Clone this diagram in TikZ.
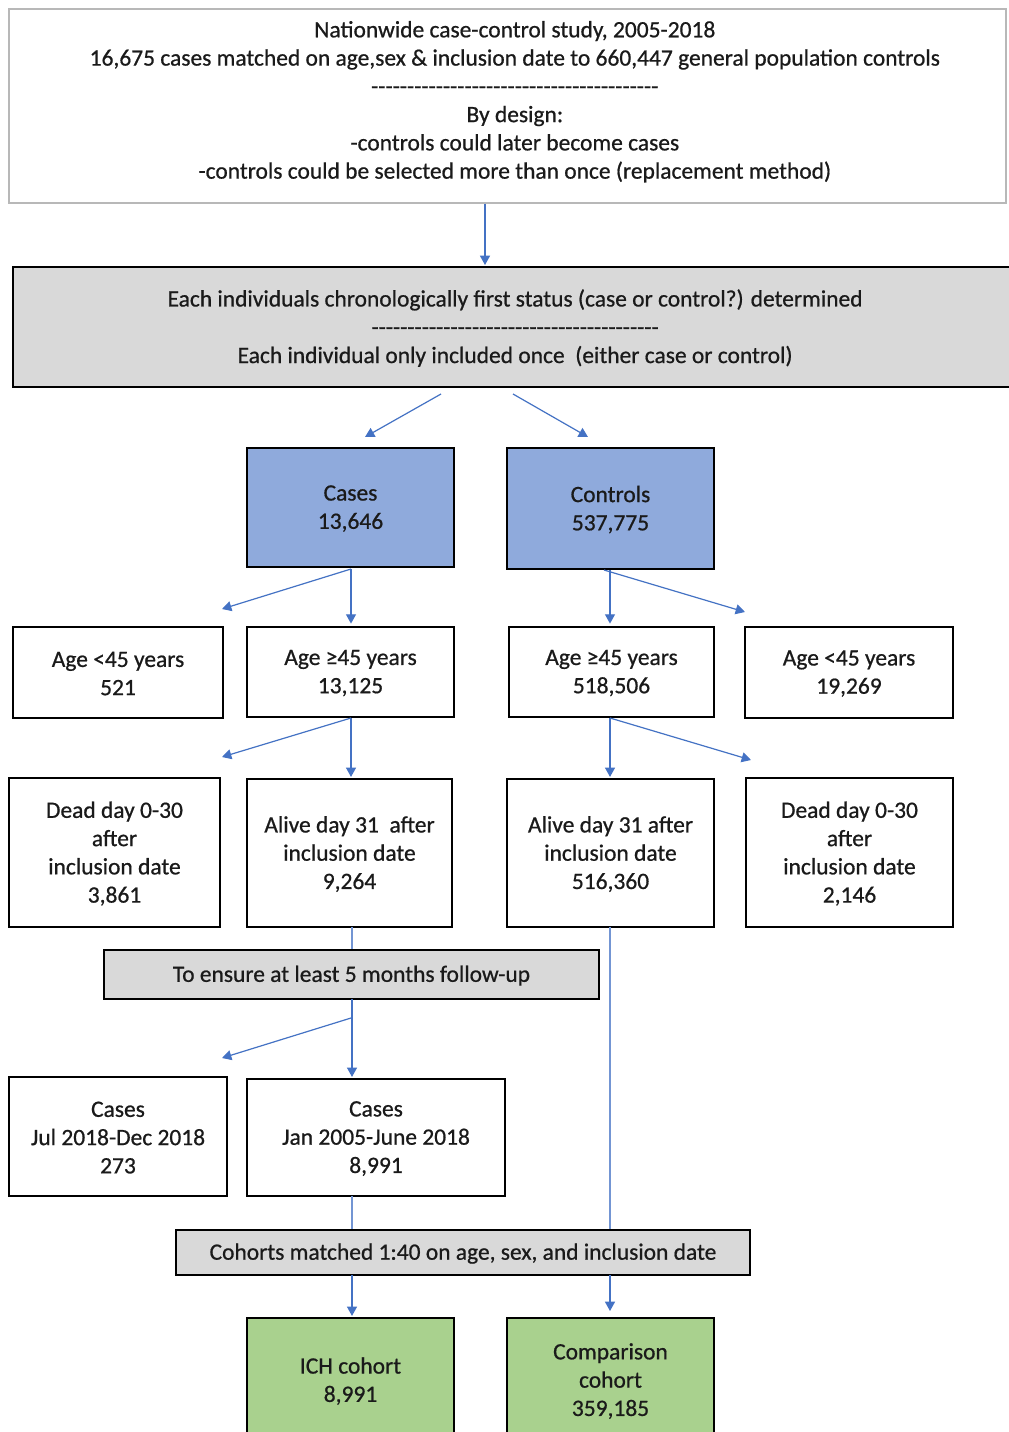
\documentclass[tikz,border=0pt]{standalone}
\usepackage{fontspec}
\setmainfont{Carlito}[FakeBold=0.7]
\usetikzlibrary{arrows.meta,fit,calc}
\definecolor{arrblue}{HTML}{4472C4}
\definecolor{boxblue}{HTML}{8FAADC}
\definecolor{boxgreen}{HTML}{A9D18E}
\definecolor{boxgray}{HTML}{D9D9D9}
\definecolor{txt}{HTML}{1A1A1A}
\newcommand\dfive{-\kern0pt-\kern0pt-\kern0pt-\kern0pt-\kern0pt}
\newcommand\drow{\dfive\dfive\dfive\dfive\dfive\dfive\dfive\dfive}
\newcommand\mkbox[6]{\node[box,#4,fit={#2 #3}] (#1) {};
  \node[lbl,#5] (#1-t) at (#1.center) {#6};}
\begin{document}
\begin{tikzpicture}[x=0.75pt,y=-0.75pt,
  box/.style={draw=black, line width=1.1pt, inner sep=0pt},
  lbl/.style={inner sep=0pt, align=center, yshift=-0.8pt,
    font=\fontsize{17.6}{21.2}\selectfont, text=txt},
  arr/.style={draw=arrblue, line width=0.9pt, -{Triangle[length=7pt,width=7.5pt]}},
  plain/.style={draw=arrblue!75, line width=0.9pt}]
\useasboundingbox (0,0) rectangle (1008,1432);
\fill[white] (0,0) rectangle (1008,1432);

\mkbox{top}{(9,9)}{(1006,203)}{draw=black!28}{yshift=4pt,xshift=5.5pt}{Nationwide case-control study, 2005-2018\\16,675 cases matched on age,sex \& inclusion date to 660,447 general population controls\\\drow\\By design:\\-controls could later become cases\\-controls could be selected more than once (replacement method)}
\mkbox{status}{(13,267)}{(1012,387)}{fill=boxgray}{xshift=2pt}{Each individuals chronologically first status (case or control?) determined\\\drow\\Each individual only included once\ \ (either case or control)}

\mkbox{cases}{(247,448)}{(454,567)}{fill=boxblue}{}{Cases\\13,646}
\mkbox{controls}{(507,448)}{(714,569)}{fill=boxblue}{}{Controls\\537,775}

\mkbox{a45c}{(13,627)}{(223,718)}{}{}{Age <45 years\\521}
\mkbox{ag45c}{(247,627)}{(454,717)}{}{}{Age ≥45 years\\13,125}
\mkbox{ag45k}{(509,627)}{(714,717)}{}{}{Age ≥45 years\\518,506}
\mkbox{a45k}{(745,627)}{(953,718)}{}{}{Age <45 years\\19,269}

\mkbox{deadc}{(9,778)}{(220,927)}{}{}{Dead day 0-30\\after\\inclusion date\\3,861}
\mkbox{alivec}{(247,779)}{(452,927)}{}{}{Alive day 31\ \ after\\inclusion date\\9,264}
\mkbox{alivek}{(507,779)}{(714,927)}{}{}{Alive day 31 after\\inclusion date\\516,360}
\mkbox{deadk}{(746,778)}{(953,927)}{}{}{Dead day 0-30\\after\\inclusion date\\2,146}

\mkbox{ensure}{(104,950)}{(599,999)}{fill=boxgray}{}{To ensure at least 5 months follow-up}

\mkbox{jul}{(9,1077)}{(227,1196)}{}{}{Cases\\Jul 2018-Dec 2018\\273}
\mkbox{jan}{(247,1079)}{(505,1196)}{}{}{Cases\\Jan 2005-June 2018\\8,991}

% long controls line drawn behind the cohorts box
\coordinate (kx) at (610,927);
\draw[plain] (kx) -- (610,1240);

\mkbox{cohorts}{(176,1230)}{(750,1275)}{fill=boxgray}{}{Cohorts matched 1:40 on age, sex, and inclusion date}

\mkbox{ich}{(247,1318)}{(454,1442)}{fill=boxgreen}{}{ICH cohort\\8,991}
\mkbox{comp}{(507,1318)}{(714,1442)}{fill=boxgreen}{}{Comparison\\cohort\\359,185}

% connectors
\coordinate (t1) at (485,265);
\draw[arr] (top.south -| t1) -- (t1);

\coordinate (s1) at (441,394);
\coordinate (e1) at (365,437);
\coordinate (s2) at (513,394);
\coordinate (e2) at (588,437);
\draw[arr] (s1) -- (e1);
\draw[arr] (s2) -- (e2);

\coordinate (c1) at (351,569);
\coordinate (c1l) at (222,609);
\draw[arr] (c1) -- (c1l);
\draw[arr, shorten >=2pt] (c1) -- (c1 |- ag45c.north);

\coordinate (k1) at (604,570);
\coordinate (k1r) at (745,612);
\draw[arr] (k1) -- (k1r);
\coordinate (k1d) at (610,570);
\draw[arr, shorten >=2pt] (k1d) -- (k1d |- ag45k.north);

\coordinate (c2) at (351,718);
\coordinate (c2l) at (222,757);
\draw[arr] (c2) -- (c2l);
\draw[arr, shorten >=1pt] (c2) -- (c2 |- alivec.north);

\coordinate (k2) at (610,718);
\coordinate (k2r) at (751,760);
\draw[arr] (k2) -- (k2r);
\draw[arr, shorten >=1pt] (k2) -- (k2 |- alivek.north);

\coordinate (c3) at (352,927);
\draw[plain] (c3) -- (c3 |- ensure.north);
\coordinate (c4) at (352,999);
\draw[arr, shorten >=1pt] (c4) -- (c4 |- jan.north);
\coordinate (c4s) at (351,1018);
\coordinate (c4l) at (222,1058);
\draw[arr] (c4s) -- (c4l);

\coordinate (c5) at (352,1196);
\draw[plain] (c5) -- (c5 |- cohorts.north);
\coordinate (c6) at (352,1275);
\draw[arr, shorten >=1pt] (c6) -- (c6 |- ich.north);

\coordinate (k6) at (610,1275);
\coordinate (k6e) at (610,1311);
\draw[arr] (k6) -- (k6e);
\end{tikzpicture}
\end{document}
